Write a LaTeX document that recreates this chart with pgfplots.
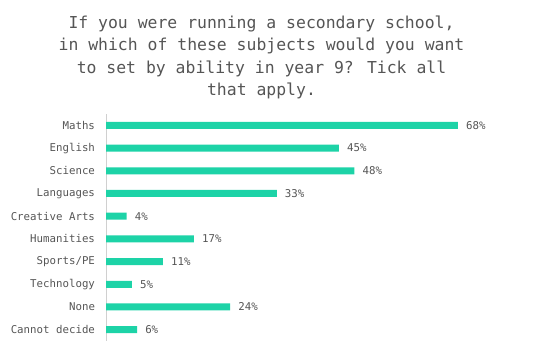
\documentclass[border=0pt]{standalone}
\usepackage{pgfplots}
\pgfplotsset{compat=1.18}
\usepackage{fontspec}
\setmainfont{DejaVu Sans Mono}
\definecolor{barc}{HTML}{1DD3A7}
\definecolor{txt}{HTML}{555555}
\definecolor{axc}{HTML}{D0D0D0}
\begin{document}
\begin{tikzpicture}
\useasboundingbox (0bp,0bp) rectangle (536bp,356bp);
\node[align=center, font=\fontsize{16.5}{22.5}\selectfont, text=txt] at (261.5bp,298.5bp)
  {If you were running a secondary school,\\in which of these subjects would you want\\to set by ability in year 9? Tick all\\that apply.};
\begin{axis}[
  at={(106bp,15bp)}, anchor=south west,
  scale only axis, width=414bp, height=227bp,
  xmin=0, xmax=80, ymin=-0.5, ymax=9.5, y dir=reverse,
  xbar, bar width=7bp,
  ytick={0,...,9},
  yticklabels={Maths,English,Science,Languages,Creative Arts,Humanities,Sports/PE,Technology,None,Cannot decide},
  axis y line*=left, axis x line=none,
  y axis line style={draw=axc, line width=0.8pt, -},
  major tick length=0pt,
  yticklabel style={font=\fontsize{10.8}{12}\selectfont, text=txt, xshift=-7.5bp},
  /pgf/number format/assume math mode=true,
  point meta=x,
  nodes near coords={\pgfmathprintnumber{\pgfplotspointmeta}\%},
  nodes near coords style={font=\fontsize{10.8}{12}\selectfont, text=txt, anchor=west, inner sep=0pt, xshift=8bp},
  clip=false,
]
\addplot[fill=barc, draw=none] coordinates {
(68,0) (45,1) (48,2) (33,3) (4,4) (17,5) (11,6) (5,7) (24,8) (6,9)
};
\end{axis}
\end{tikzpicture}
\end{document}
